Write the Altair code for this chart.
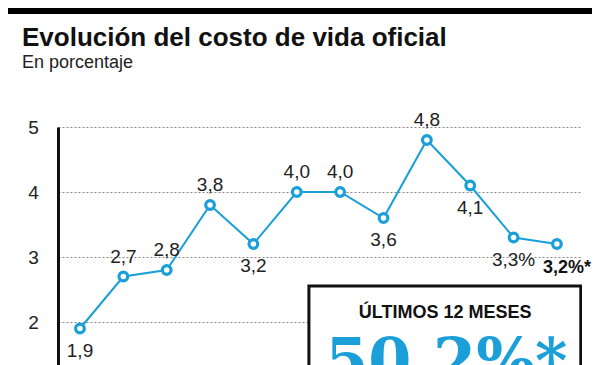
import altair as alt
import pandas as pd

title_text = "Evolución del costo de vida oficial"
subtitle_text = "En porcentaje"

values = [1.9, 2.7, 2.8, 3.8, 3.2, 4.0, 4.0, 3.6, 4.8, 4.1, 3.3, 3.2]
labels = ["1,9", "2,7", "2,8", "3,8", "3,2", "4,0", "4,0", "3,6", "4,8", "4,1", "3,3%", "3,2%*"]
label_pos = ["below", "above", "above", "above", "below", "above", "above", "below", "above", "below", "below", "below"]
label_bold = [False] * 11 + [True]
y_ticks = [2, 3, 4, 5]

box_label = "ÚLTIMOS 12 MESES"
box_value = "50,2%*"

BLUE = "#1a9fd8"

df = pd.DataFrame({
    "i": list(range(len(values))),
    "v": values,
    "lab": labels,
    "pos": label_pos,
    "bold": label_bold,
})

H = 240
xs = alt.Scale(domain=[-0.507, 11.578], nice=False, zero=False)
ys = alt.Scale(domain=[5 - H / 65, 5], nice=False, zero=False)

base = alt.Chart(df)

axis_layer = base.mark_line(opacity=0).encode(
    x=alt.X("i:Q", scale=xs, axis=None),
    y=alt.Y("v:Q", scale=ys, axis=alt.Axis(
        values=y_ticks, format="d", title=None, grid=True, gridDash=[2, 2], gridColor="#888888",
        gridWidth=1, domain=True, domainColor="#111111", domainWidth=3, ticks=False,
        labelFontSize=19, labelColor="#222222", labelFont="Liberation Sans",
        labelPadding=25, labelAlign="center", labelBaseline="middle")),
)

one = pd.DataFrame({"a": [0]})

# decorative black band at the top of the graphic
top_bar = alt.Chart(one).mark_rule(
    color="#000000", strokeWidth=6, clip=False).encode(
    x=alt.value(-50), x2=alt.value(534), y=alt.value(-116))

title_mark = alt.Chart(one).mark_text(
    text=title_text, align="left", baseline="alphabetic", font="Liberation Sans",
    fontSize=26, fontWeight="bold", color="#111111").encode(
    x=alt.value(-36), y=alt.value(-81))

subtitle_mark = alt.Chart(one).mark_text(
    text=subtitle_text, align="left", baseline="alphabetic", font="Liberation Sans",
    fontSize=18, color="#222222").encode(
    x=alt.value(-36), y=alt.value(-59))

line = base.mark_line(color=BLUE, strokeWidth=2).encode(
    x=alt.X("i:Q", scale=xs), y=alt.Y("v:Q", scale=ys))

pts = base.mark_point(shape="circle", filled=True, fill="white", stroke=BLUE,
                      strokeWidth=3.2, size=75, opacity=1).encode(
    x=alt.X("i:Q", scale=xs), y=alt.Y("v:Q", scale=ys))

above = base.transform_filter("datum.pos == 'above'").mark_text(
    dy=-20, fontSize=19, font="Liberation Sans", color="#222222").encode(
    x=alt.X("i:Q", scale=xs), y=alt.Y("v:Q", scale=ys), text="lab:N")

below = base.transform_filter("datum.pos == 'below' && !datum.bold").mark_text(
    dy=22, fontSize=19, font="Liberation Sans", color="#222222").encode(
    x=alt.X("i:Q", scale=xs), y=alt.Y("v:Q", scale=ys), text="lab:N")

below_bold = base.transform_filter("datum.bold").mark_text(
    dy=24, dx=10, fontSize=18, font="Liberation Sans", fontWeight="bold", color="#111111").encode(
    x=alt.X("i:Q", scale=xs), y=alt.Y("v:Q", scale=ys), text="lab:N")

# Summary box
box_df = pd.DataFrame({"x1": [5.28], "x2": [11.55], "y1": [2.554], "y2": [0.5]})
box = alt.Chart(box_df).mark_rect(fill="white", stroke="#111111", strokeWidth=3, clip=True).encode(
    x=alt.X("x1:Q", scale=xs), x2="x2:Q", y=alt.Y("y1:Q", scale=ys), y2="y2:Q")

box_text_df = pd.DataFrame({"x": [8.42], "y": [2.14], "t": [box_label]})
box_title = alt.Chart(box_text_df).mark_text(
    fontSize=18, fontWeight="bold", font="Liberation Sans", color="#111111").encode(
    x=alt.X("x:Q", scale=xs), y=alt.Y("y:Q", scale=ys), text="t:N")

big_df = pd.DataFrame({"x": [8.45], "y": [1.08], "t": [box_value]})
big = alt.Chart(big_df).mark_text(
    fontSize=62, fontWeight="bold", font="DejaVu Serif", color=BLUE, baseline="alphabetic",
    clip=True).encode(
    x=alt.X("x:Q", scale=xs), y=alt.Y("y:Q", scale=ys), text="t:N")

chart = alt.layer(axis_layer, top_bar, title_mark, subtitle_mark, line, box, box_title, big,
                  pts, above, below, below_bold).properties(
    width=524, height=H,
    autosize=alt.AutoSizeParams(type="none"),
    padding={"left": 50, "top": 119, "right": 10, "bottom": 0},
).configure_view(stroke=None)

chart.save("out.html", embed_options={"renderer": "svg", "actions": False})
